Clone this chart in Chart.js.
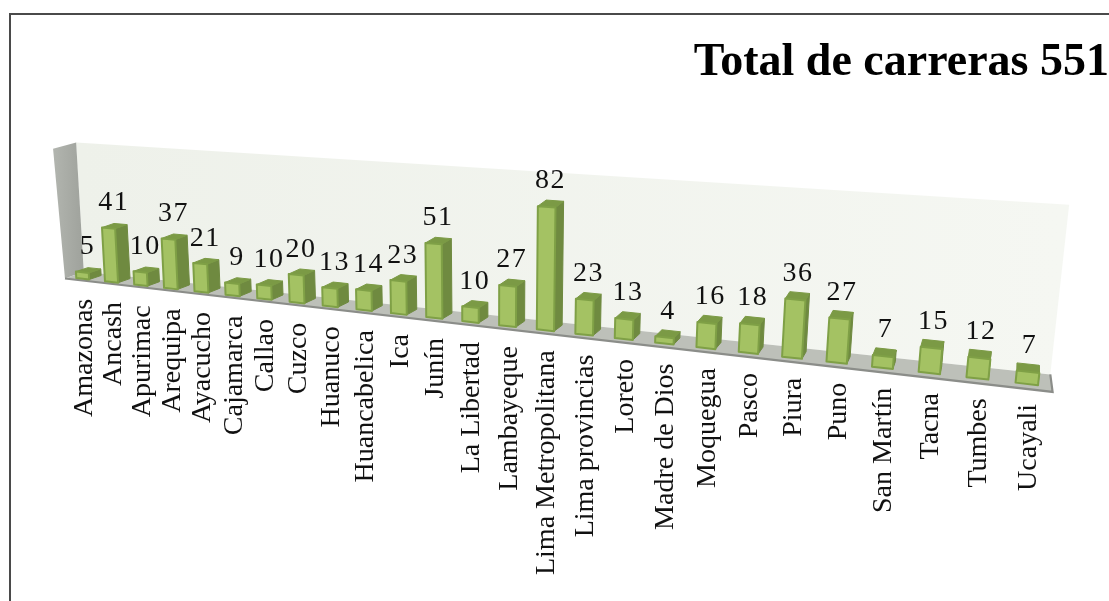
<!DOCTYPE html>
<html><head><meta charset="utf-8">
<style>html,body{margin:0;padding:0;background:#fff;overflow:hidden}canvas{display:block}</style>
<script src="https://cdn.jsdelivr.net/npm/chart.js@4"></script>
</head><body><canvas id="c" width="1109" height="601"></canvas>
<script>
const categories = ["Amazonas","Ancash","Apurimac","Arequipa","Ayacucho","Cajamarca","Callao","Cuzco","Huanuco","Huancabelica","Ica","Junín","La Libertad","Lambayeque","Lima Metropolitana","Lima provincias","Loreto","Madre de Dios","Moquegua","Pasco","Piura","Puno","San Martín","Tacna","Tumbes","Ucayali"];
const carreras = [5,41,10,37,21,9,10,20,13,14,23,51,10,27,82,23,13,4,16,18,36,27,7,15,12,7];
const titleText = "Total de carreras 551";
const axisMax = 100;

// perspective view of the chart's plot box
const C=-0.00979,A=82.7,B=27.71,Y0=278.8,D=0.445,H=1.3;
const lean=u=>-0.075+0.0035*u+0.0002*u*u;
const dx=u=>11.5-0.5*u, dy=u=>-4.3-0.2*u;
const barDx=u=>12*(1-(u/25)*(u/25)), barDy=u=>-4-0.15*u;
function base(u,v){
  const W=1+C*u;
  return [(A+B*u+lean(u)*v)/W,(Y0+D*u-H*v)/W];
}
function proj(u,v,z){const p=base(u,v);return [p[0]+z*dx(u),p[1]+z*dy(u)];}
function bar(u,v,z){const p=base(u,v);return [p[0]+z*barDx(u),p[1]+z*barDy(u)];}
function poly(ctx,pts,fill,stroke,lw){
  ctx.beginPath();pts.forEach((p,i)=>i?ctx.lineTo(p[0],p[1]):ctx.moveTo(p[0],p[1]));ctx.closePath();
  if(fill){ctx.fillStyle=fill;ctx.fill();}
  if(stroke){ctx.strokeStyle=stroke;ctx.lineWidth=lw||1;ctx.lineJoin='round';ctx.stroke();}
}
function uOf(chart,px){const s=chart.scales.x;return s.getDecimalForPixel(px)*categories.length-0.5;}

const view3d={
  id:'view3d',
  beforeDraw(chart){
    const ctx=chart.ctx;
    ctx.save();ctx.fillStyle='#fff';ctx.fillRect(0,0,chart.width,chart.height);
    ctx.strokeStyle='#4a4a4a';ctx.lineWidth=2;ctx.beginPath();ctx.moveTo(10,601);ctx.lineTo(10,14);ctx.lineTo(1109,14);ctx.stroke();
    ctx.restore();
  },
  beforeDatasetsDraw(chart){
    const ctx=chart.ctx,L=-0.5,R=categories.length-0.5,T=axisMax,TR=axisMax-2,zb=1.3,zfL=-0.3,zfR=-0.56;
    ctx.save();
    const g=ctx.createLinearGradient(80,0,1060,0);g.addColorStop(0,'#eef1ea');g.addColorStop(1,'#f5f7f2');
    poly(ctx,[proj(L,0,zb),proj(L,T,zb),proj(R,TR,zb),proj(R,0,zb)],g);
    const g2=ctx.createLinearGradient(50,0,80,0);g2.addColorStop(0,'#b4b7b1');g2.addColorStop(1,'#a1a49e');
    poly(ctx,[proj(L,0,zfL),proj(L-0.15,T,zfL),proj(L,T,zb),proj(L,0,zb)],g2);
    poly(ctx,[proj(L,0,zfL),proj(L,0,zb),proj(R,0,zb),proj(R,0,zfR)],'#bdc0b9');
    ctx.beginPath();const a=proj(L,0,zfL),b=proj(R,0,zfR),r=proj(R,0,zb);
    ctx.moveTo(a[0],a[1]);ctx.lineTo(b[0],b[1]);ctx.lineTo(r[0],r[1]);ctx.strokeStyle='#8b8d89';ctx.lineWidth=2.2;ctx.stroke();
    ctx.restore();
  },
  beforeDatasetDraw(chart,args){
    const ctx=chart.ctx,meta=args.meta,ys=chart.scales.y;
    ctx.save();
    for(let i=meta.data.length-1;i>=0;i--){
      const el=meta.data[i];
      const l=uOf(chart,el.x-el.width/2),r=uOf(chart,el.x+el.width/2),v=ys.getValueForPixel(el.y);
      poly(ctx,[bar(r,0,0),bar(r,v,0),bar(r,v,1),bar(r,0,1)],'#6f8a40','#6f8a40',1);
      poly(ctx,[bar(l,v,0),bar(l,v,1),bar(r,v,1),bar(r,v,0)],'#7b9a45','#7b9a45',1);
      poly(ctx,[bar(l,0,0),bar(l,v,0),bar(r,v,0),bar(r,0,0)],'#a4c263','#7fa046',2);
    }
    ctx.restore();
    return false;
  },
  afterDatasetsDraw(chart){
    const ctx=chart.ctx,meta=chart.getDatasetMeta(0),ys=chart.scales.y;
    ctx.save();
    ctx.fillStyle='#111';
    meta.data.forEach((el,i)=>{
      const u=uOf(chart,el.x),v=ys.getValueForPixel(el.y),p=bar(u,v,0.3);
      ctx.font='28px "Liberation Serif"';ctx.letterSpacing='1.5px';ctx.textAlign='center';ctx.textBaseline='middle';
      ctx.fillText(String(carreras[i]),p[0]+1.5,p[1]-24);
      ctx.letterSpacing='0px';
      const b=bar(u,0,0);
      ctx.save();ctx.translate(b[0]+9,b[1]+20);ctx.rotate(-Math.PI/2);
      ctx.textAlign='right';ctx.textBaseline='alphabetic';ctx.font='28px "Liberation Serif"';
      ctx.fillText(categories[i],0,0);ctx.restore();
    });
    ctx.restore();
  }
};
new Chart(document.getElementById('c'),{
  type:'bar',
  data:{labels:categories,datasets:[{data:carreras,backgroundColor:'#a4c263',barPercentage:0.45,categoryPercentage:1}]},
  options:{responsive:false,animation:false,
    layout:{padding:0},
    scales:{x:{display:false},y:{display:false,min:0,max:axisMax}},
    plugins:{legend:{display:false},tooltip:{enabled:false},
      title:{display:true,text:titleText,align:'end',color:'#000',font:{family:'"Liberation Serif"',size:46,weight:'bold'},padding:{top:36,bottom:10}}}
  },
  plugins:[view3d]
});
</script></body></html>
